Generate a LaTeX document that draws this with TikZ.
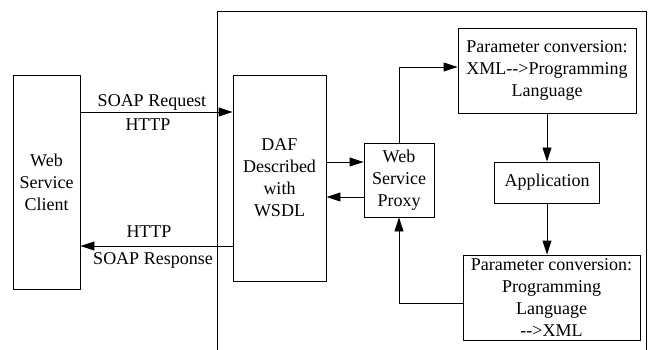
\documentclass[tikz,border=0pt]{standalone}
\usepackage{fontspec}
\setmainfont{Liberation Serif}
\usetikzlibrary{arrows.meta}
\begin{document}
\begin{tikzpicture}[x=1pt,y=-1pt,
  box/.style={draw,line width=0.9pt,inner sep=0pt,align=center,font=\fontsize{18}{22}\selectfont},
  arr/.style={line width=0.9pt,-{Triangle[length=14pt,width=9pt]}},
  lbl/.style={font=\fontsize{18}{22}\selectfont,inner sep=0pt}]
\useasboundingbox (0,0) rectangle (653,350);
\draw[line width=0.9pt] (217,350) -- (217,11) -- (646,11) -- (646,350);
\node[box,minimum width=67pt,minimum height=214pt] (client) at (46.5,182) {Web\\Service\\Client};
\node[box,minimum width=93pt,minimum height=206pt] (daf) at (279.5,178) {DAF\\Described\\with\\WSDL};
\node[box,minimum width=70pt,minimum height=74pt] (proxy) at (399,180) {Web\\Service\\Proxy};
\node[box,minimum width=178pt,minimum height=85pt] (top) at (547,70.5) {Parameter conversion:\\XML{-}{-}>Programming\\Language};
\node[box,minimum width=105pt,minimum height=41pt] (app) at (547,182.5) {Application};
\node[box,minimum width=177pt,minimum height=85pt] (bot) at (551.5,297.5) {Parameter conversion:\\Programming\\Language\\{-}{-}>XML};
\draw[arr] (client.east |- {0,112}) -- (daf.west |- {0,112});
\draw[arr] (daf.west |- {0,246}) -- (client.east |- {0,246});
\node[lbl] (l1) at (152,102) {SOAP Request};
\node[lbl] (l2) at (148,125) {HTTP};
\node[lbl] (l3) at (149,232) {HTTP};
\node[lbl] (l4) at (153,260) {SOAP Response};
\draw[arr] (daf.east |- {0,162}) -- (proxy.west |- {0,162});
\draw[arr] (proxy.west |- {0,197}) -- (daf.east |- {0,197});
\draw[arr] (proxy.north) |- (top.west |- {0,67});
\draw[arr] (top.south) -- (app.north);
\draw[arr] (app.south) -- (app.south |- bot.north);
\draw[arr] (bot.west |- {0,303}) -| (proxy.south);
\end{tikzpicture}
\end{document}
